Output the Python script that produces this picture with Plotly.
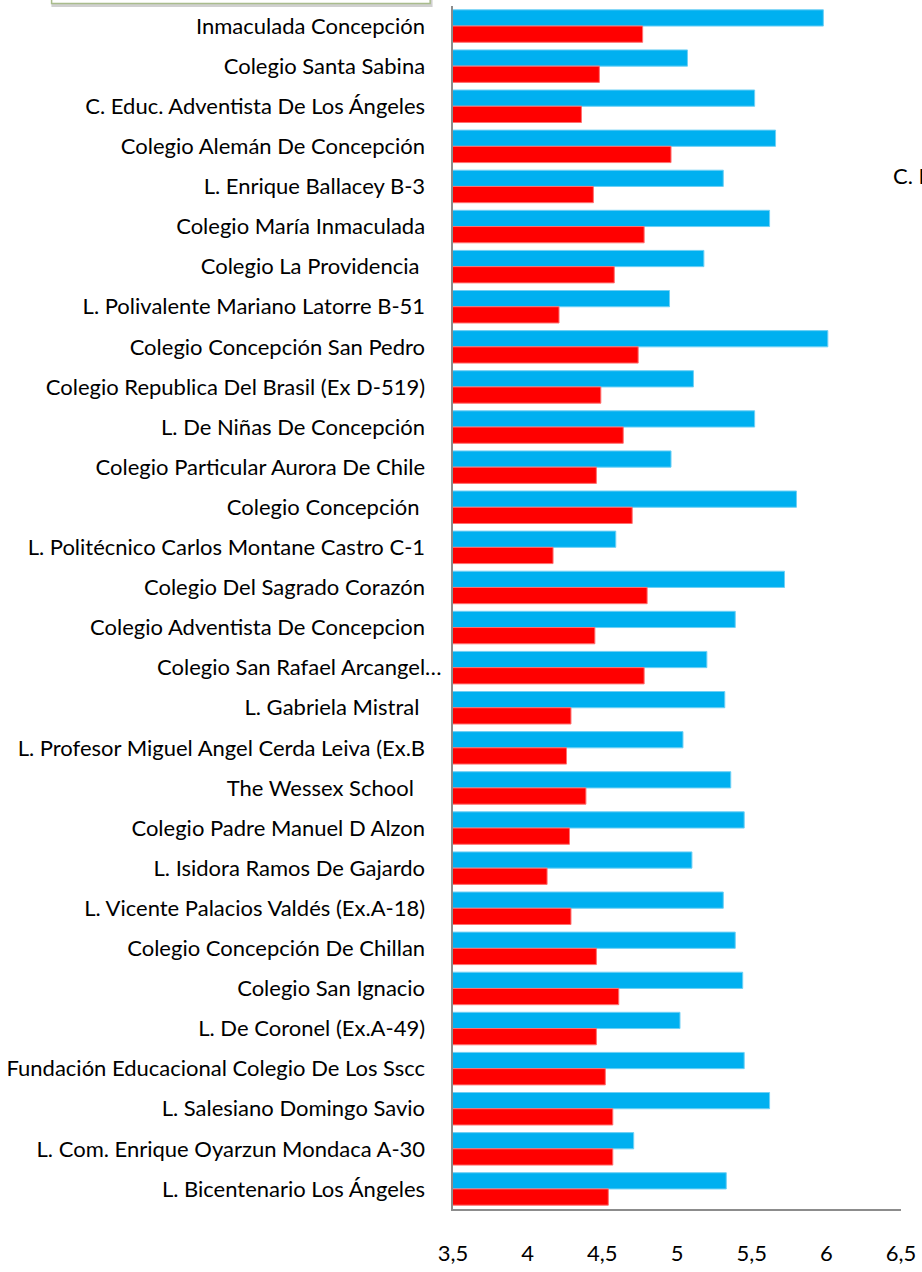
"""Horizontal grouped bar chart: school scores, two series per school."""

import plotly.graph_objects as go

# Category labels, top to bottom (trailing spaces as in the source sheet)
schools = [
    "Inmaculada Concepción",
    "Colegio Santa Sabina",
    "C. Educ. Adventista De Los Ángeles",
    "Colegio Alemán De Concepción",
    "L. Enrique Ballacey B-3",
    "Colegio María Inmaculada",
    "Colegio La Providencia ",
    "L. Polivalente Mariano Latorre B-51",
    "Colegio Concepción San Pedro",
    "Colegio Republica Del Brasil (Ex D-519)",
    "L. De Niñas De Concepción",
    "Colegio Particular Aurora De Chile",
    "Colegio Concepción ",
    "L. Politécnico Carlos Montane Castro C-1",
    "Colegio Del Sagrado Corazón",
    "Colegio Adventista De Concepcion",
    "Colegio San Rafael Arcangel…",
    "L. Gabriela Mistral ",
    "L. Profesor Miguel Angel Cerda Leiva (Ex.B",
    "The Wessex School  ",
    "Colegio Padre Manuel D Alzon",
    "L. Isidora Ramos De Gajardo",
    "L. Vicente Palacios Valdés (Ex.A-18)",
    "Colegio Concepción De Chillan",
    "Colegio San Ignacio",
    "L. De Coronel (Ex.A-49)",
    "Fundación Educacional Colegio De Los Sscc",
    "L. Salesiano Domingo Savio",
    "L. Com. Enrique Oyarzun Mondaca A-30",
    "L. Bicentenario Los Ángeles",
]

blue_values = [
    5.98, 5.07, 5.52, 5.66, 5.31, 5.62, 5.18, 4.95, 6.01, 5.11,
    5.52, 4.96, 5.80, 4.59, 5.72, 5.39, 5.20, 5.32, 5.04, 5.36,
    5.45, 5.10, 5.31, 5.39, 5.44, 5.02, 5.45, 5.62, 4.71, 5.33,
]

red_values = [
    4.77, 4.48, 4.36, 4.96, 4.44, 4.78, 4.58, 4.21, 4.74, 4.49,
    4.64, 4.46, 4.70, 4.17, 4.80, 4.45, 4.78, 4.29, 4.26, 4.39,
    4.28, 4.13, 4.29, 4.46, 4.61, 4.46, 4.52, 4.57, 4.57, 4.54,
]

x_ticks = [3.5, 4, 4.5, 5, 5.5, 6, 6.5]

BLUE = "#00B0F0"
RED = "#FF0000"
AXIS_GREY = "#8C8C8C"
FONT = "Lato, 'Noto Sans', sans-serif"


def _tick_label(name):
    # keep trailing blanks visible; pad normal labels so only the
    # truncated one runs up close to the axis
    stripped = name.rstrip(" ")
    pad = "\u00a0" * (len(name) - len(stripped))
    if stripped.endswith("…"):
        return stripped + pad
    return stripped + pad + "\u2003"


fig = go.Figure()
fig.add_trace(go.Bar(
    y=schools, x=blue_values, orientation="h", name="Serie 1",
    marker=dict(color=BLUE, line=dict(color="#6FD0F5", width=1)),
))
fig.add_trace(go.Bar(
    y=schools, x=red_values, orientation="h", name="Serie 2",
    marker=dict(color=RED, line=dict(color="#FF7070", width=1)),
))

# cut-off legend frame at the top left and clipped label at the right
fig.add_shape(type="rect", xref="paper", yref="paper",
              x0=-0.893, x1=-0.049, y0=1.0005, y1=1.02,
              line=dict(color="rgba(120,120,120,0.35)", width=3),
              fillcolor="white", layer="above")
fig.add_shape(type="rect", xref="paper", yref="paper",
              x0=-0.896, x1=-0.051, y0=1.002, y1=1.02,
              line=dict(color="#A9BC8C", width=1.5),
              fillcolor="white", layer="above")
fig.add_annotation(x=0.978, y=0.8594, xref="paper", yref="paper",
                   text="C. Particular", showarrow=False,
                   xanchor="left", yanchor="middle",
                   font=dict(family=FONT, size=22, color="#000000"))

fig.update_layout(
    width=922, height=1272,
    margin=dict(l=453, r=19, t=5.5, b=47),
    barmode="group", bargap=0.19, bargroupgap=0,
    plot_bgcolor="white", paper_bgcolor="white",
    showlegend=False,
    separators=",.",
    font=dict(family=FONT, size=22, color="#000000"),
)
fig.update_xaxes(
    range=[3.5, 6.5], tickvals=x_ticks, showgrid=False, zeroline=False,
    showline=True, linecolor=AXIS_GREY, linewidth=2,
    ticks="", ticklabelstandoff=24, tickfont=dict(size=22),
)
fig.update_yaxes(
    autorange="reversed", showgrid=False, zeroline=False,
    showline=True, linecolor=AXIS_GREY, linewidth=2, ticks="",
    tickvals=schools, ticktext=[_tick_label(s) for s in schools],
    ticklabelstandoff=5,
)

# page body margin would push the 922 px figure past the window edge
fig.write_html("out.html", config={"displayModeBar": False},
               post_script="document.body.style.margin = '0';")
